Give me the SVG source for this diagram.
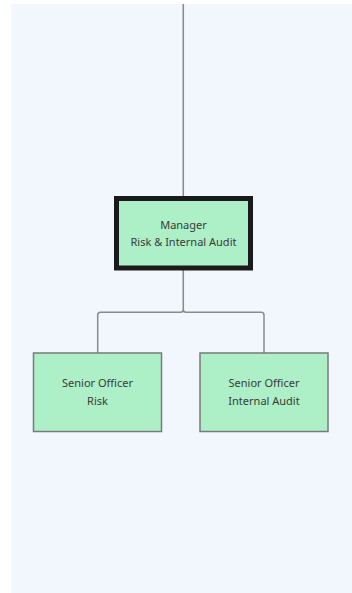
<svg xmlns="http://www.w3.org/2000/svg" width="352" height="593" viewBox="0 0 352 593">
  <style>
    .conn { fill: none; stroke: #8a8a8a; stroke-width: 1.5; }
    .box { fill: #adefc7; stroke: #7a7a7a; stroke-width: 1.5; }
    .mgr { fill: #adefc7; stroke: #1a1a1a; stroke-width: 5; }
    .lbl { font-family: "Noto Sans", "Open Sans", sans-serif; font-size: 11px; fill: #3a3a3a; text-anchor: middle; }
  </style>
  <rect x="0" y="0" width="352" height="593" fill="#ffffff"/>
  <rect x="11" y="4" width="341" height="589" fill="#f2f7fe"/>

  <g id="connectors">
    <line class="conn" x1="183.3" y1="4" x2="183.3" y2="197"/>
    <path class="conn" d="M183.3 270 V309.5 Q183.3 312.3 180.5 312.3 H100.5 Q97.7 312.3 97.7 315.1 V353"/>
    <path class="conn" d="M183.3 309.5 Q183.3 312.3 186.1 312.3 H261.2 Q264 312.3 264 315.1 V353"/>
  </g>

  <g id="manager">
    <rect class="mgr" x="116.5" y="198.5" width="134" height="69.5"/>
    <text class="lbl" x="183.5" y="229">Manager</text>
    <text class="lbl" x="183.5" y="246">Risk &amp; Internal Audit</text>
  </g>

  <g id="officer-risk">
    <rect class="box" x="33.5" y="353" width="128" height="78.5"/>
    <text class="lbl" x="97.5" y="387">Senior Officer</text>
    <text class="lbl" x="97.5" y="405">Risk</text>
  </g>

  <g id="officer-audit">
    <rect class="box" x="200" y="353" width="128" height="78.5"/>
    <text class="lbl" x="264" y="387">Senior Officer</text>
    <text class="lbl" x="264" y="405">Internal Audit</text>
  </g>
</svg>
